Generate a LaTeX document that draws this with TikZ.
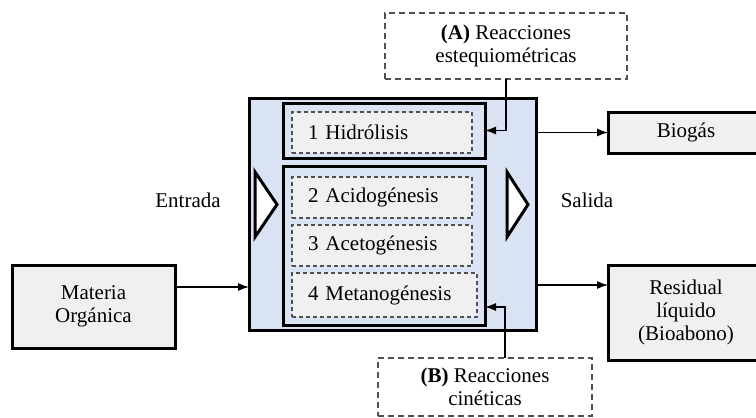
\documentclass[tikz,border=0pt]{standalone}
\usepackage{fontspec}
\setmainfont{Liberation Serif}
\usetikzlibrary{arrows.meta}
\definecolor{bluefill}{HTML}{DAE3F3}
\definecolor{grayfill}{HTML}{F0F0F0}
\definecolor{dashgray}{HTML}{505050}
\begin{document}
\begin{tikzpicture}[x=1pt,y=-1pt,
  every node/.style={font=\fontsize{21}{23}\selectfont, inner sep=0pt, outer sep=0pt},
  heavybox/.style={draw=black, line width=3pt, rectangle},
  solidbox/.style={heavybox, fill=grayfill, align=center},
  stagebox/.style={draw=dashgray, line width=1.3pt, dash pattern=on 4pt off 3pt, fill=grayfill, align=left, inner xsep=16pt, minimum height=41pt},
  notebox/.style={draw=dashgray, line width=1.3pt, dash pattern=on 6pt off 4pt, fill=white, align=center},
  arr/.style={line width=1.2pt, -{Latex[length=11pt,width=8pt]}},
  tri/.style={draw=black, line width=3pt, fill=white, line join=miter}
]
\useasboundingbox (0,0) rectangle (756,418);
\clip (0,0) rectangle (756,418);

% main reactor
\node[heavybox, fill=bluefill, minimum width=287pt, minimum height=232pt] (outer) at (392.5,214) {};
\node[heavybox, fill=bluefill, minimum width=202pt, minimum height=55pt] (grp1) at (384,130.5) {};
\node[heavybox, fill=bluefill, minimum width=202pt, minimum height=159pt] (grp2) at (384,245.5) {};

\node[stagebox, text width=148pt] (s1) at (382,132.5) {1 Hidrólisis};
\node[stagebox, text width=148pt] (s2) at (382,197.5) {2 Acidogénesis};
\node[stagebox, text width=148pt] (s3) at (382,245.5) {3 Acetogénesis};
\node[stagebox, text width=153pt, minimum height=44pt] (s4) at (384.5,295) {4 Metanogénesis};

% in / out triangles
\draw[tri] (255,172) -- (277,204.5) -- (255,237) -- cycle;
\draw[tri] (507,172) -- (528,204.5) -- (507,237) -- cycle;

\node (entrada) at (188,200) {Entrada};
\node (salida) at (587,200) {Salida};

% side boxes
\node[solidbox, minimum width=163pt, minimum height=83pt] (mat) at (93.5,306.5) {Materia\\Orgánica};
\node[solidbox, minimum width=156pt, minimum height=41pt] (bio) at (686,132.5) {Biogás};
\node[solidbox, minimum width=156pt, minimum height=95pt] (res) at (686,312.5) {Residual\\líquido\\(Bioabono)};

% note boxes
\node[notebox, minimum width=242pt, minimum height=66pt] (A) at (506,46) {\textbf{(A)} Reacciones\\estequiométricas};
\node[notebox, minimum width=214pt, minimum height=58pt] (B) at (485,387) {\textbf{(B)} Reacciones\\cinéticas};

% connectors
\coordinate (mj) at (0,287);
\coordinate (rj) at (0,285);
\coordinate (bj) at (505,307);
\draw[arr] (mat.east |- mj) -- (outer.west |- mj);
\draw[arr] (outer.east |- bio.west) -- (bio.west);
\draw[arr] (outer.east |- rj) -- (res.west |- rj);
\draw[arr] (A.south) |- (grp1.east);
\draw[arr] (B.north -| bj) |- (grp2.east |- bj);
\end{tikzpicture}
\end{document}
